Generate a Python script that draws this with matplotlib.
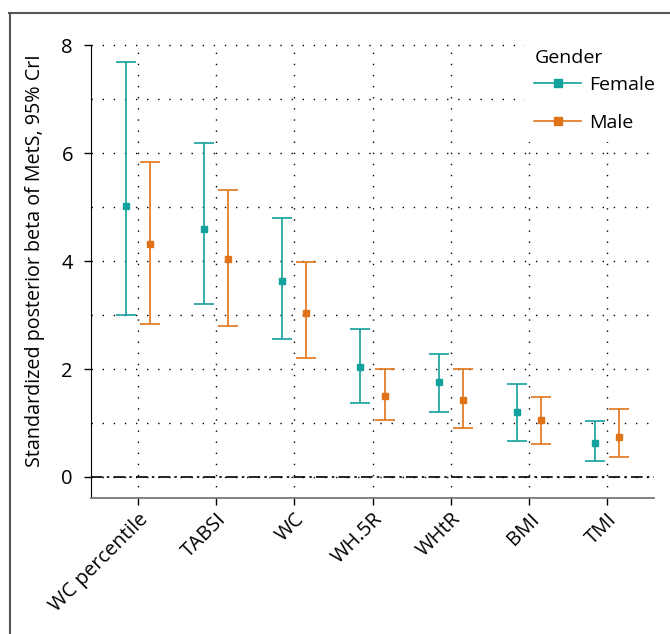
import matplotlib
matplotlib.use('Agg')
import matplotlib.pyplot as plt
import numpy as np
from matplotlib.lines import Line2D

plt.rcParams['font.family'] = ['Open Sans', 'DejaVu Sans']

indices = ['WC percentile', 'TABSI', 'WC', 'WH.5R', 'WHtR', 'BMI', 'TMI']

female_est = [5.02, 4.59, 3.63, 2.04, 1.76, 1.20, 0.63]
female_low = [3.00, 3.20, 2.56, 1.37, 1.20, 0.67, 0.30]
female_high = [7.69, 6.19, 4.80, 2.74, 2.28, 1.73, 1.04]

male_est = [4.31, 4.04, 3.04, 1.50, 1.43, 1.05, 0.74]
male_low = [2.83, 2.80, 2.20, 1.06, 0.91, 0.61, 0.37]
male_high = [5.83, 5.31, 3.98, 2.00, 2.00, 1.48, 1.26]

teal = '#12A19C'
orange = '#E07318'

fig = plt.figure(figsize=(6.7, 6.34), dpi=100)
ax = fig.add_axes([91/670, 1-497.5/634, (654-91)/670, (497.5-42.5)/634])

x = np.arange(1, len(indices)+1)
dodge = 0.155

def draw(xpos, est, low, high, color, label):
	est = np.array(est)
	yerr = [est - np.array(low), np.array(high) - est]
	ax.errorbar(xpos, est, yerr=yerr, fmt='s', color=color, ecolor=color,
		markersize=5, capsize=7.5, capthick=1.2, elinewidth=1.2, label=label, zorder=3)

draw(x - dodge, female_est, female_low, female_high, teal, 'Female')
draw(x + dodge, male_est, male_low, male_high, orange, 'Male')

ax.axhline(0, color='black', lw=1.2, linestyle=(0, (7, 2.5, 1.5, 2.5)), zorder=2)

ax.set_xlim(0.4, 7.6)
ax.set_ylim(-0.38, 8.05)
ax.set_xticks(x)
ax.set_xticklabels(indices, rotation=45, ha='right', rotation_mode='anchor', fontsize=14.5)
ax.set_yticks([0, 2, 4, 6, 8])
ax.set_yticks([1, 3, 5, 7], minor=True)
ax.tick_params(axis='y', which='minor', length=0)
ax.tick_params(axis='both', which='major', labelsize=14.5, length=5, width=1)
ax.tick_params(axis='y', pad=8)
ax.grid(True, which='both', color='black', linestyle=(0, (1, 7)), lw=1.0, zorder=1)
ax.set_axisbelow(True)

ax.spines['top'].set_visible(False)
ax.spines['right'].set_visible(False)
ax.spines['left'].set_color('black')
ax.spines['left'].set_bounds(-0.38, 8.0)
ax.spines['bottom'].set_color('#777777')
ax.spines['bottom'].set_linewidth(1.3)

ax.set_ylabel('Standardized posterior beta of MetS, 95% CrI', fontsize=14.2)
ax.yaxis.set_label_coords(-0.082, 0.52)

handles = [Line2D([0], [0], color=teal, marker='s', markersize=6, lw=1.2),
	Line2D([0], [0], color=orange, marker='s', markersize=6, lw=1.2, alpha=1)]
leg = fig.legend(handles, ['Female', 'Male'], title='Gender', loc='upper left',
	bbox_to_anchor=(515/670, 1-30/634), frameon=True, framealpha=1, edgecolor='none',
	facecolor='white', fontsize=14, title_fontsize=14, handlelength=2.4,
	handletextpad=0.4, borderpad=0.5, labelspacing=1.05)
leg._legend_box.align = 'left'
leg._legend_box.sep = 6

# outer frame
fig.add_artist(Line2D([9.5/670, 9.5/670], [0, 1-12.5/634], transform=fig.transFigure, color='#555555', lw=1.5))
fig.add_artist(Line2D([9/670, 1], [1-12.5/634, 1-12.5/634], transform=fig.transFigure, color='#555555', lw=1.5))

fig.savefig('out.png', dpi=100)
